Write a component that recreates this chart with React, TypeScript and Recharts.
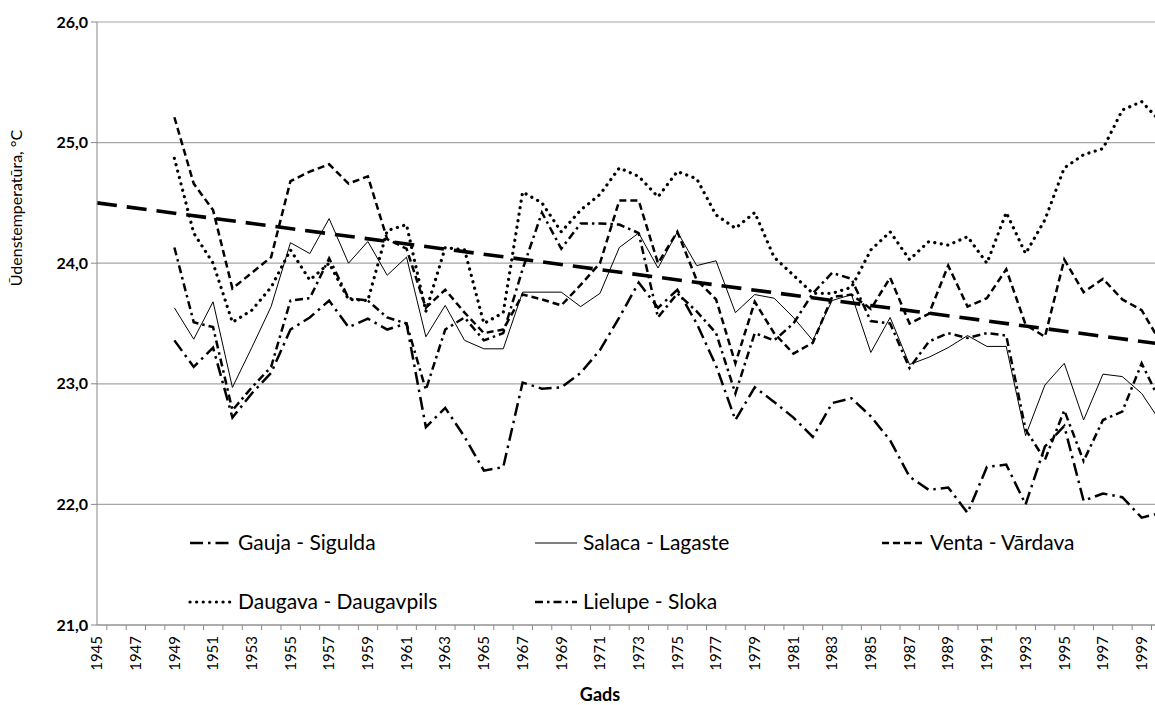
import React from 'react';
import { LineChart, Line, XAxis, YAxis, CartesianGrid } from 'recharts';

const years = [
  1945, 1946, 1947, 1948, 1949, 1950, 1951, 1952, 1953, 1954, 1955, 1956, 1957, 1958,
  1959, 1960, 1961, 1962, 1963, 1964, 1965, 1966, 1967, 1968, 1969, 1970, 1971, 1972,
  1973, 1974, 1975, 1976, 1977, 1978, 1979, 1980, 1981, 1982, 1983, 1984, 1985, 1986,
  1987, 1988, 1989, 1990, 1991, 1992, 1993, 1994, 1995, 1996, 1997, 1998, 1999, 2000,
];
const firstMeasured = 1949;

// values 1949..2000
const gauja = [
  23.36, 23.14, 23.3, 22.72, 22.92, 23.09, 23.45, 23.55, 23.69, 23.47, 23.54, 23.45, 23.5,
  22.64, 22.8, 22.56, 22.28, 22.31, 23.01, 22.96, 22.97, 23.09, 23.28, 23.55, 23.84, 23.63,
  23.78, 23.5, 23.15, 22.7, 22.97, 22.85, 22.72, 22.56, 22.84, 22.88, 22.73, 22.53, 22.23,
  22.12, 22.14, 21.93, 22.31, 22.33, 22.0, 22.48, 22.65, 22.03, 22.09, 22.06, 21.89, 21.93,
];
const salaca = [
  23.63, 23.37, 23.68, 22.97, 23.3, 23.64, 24.17, 24.08, 24.37, 24.0, 24.18, 23.9, 24.05,
  23.39, 23.65, 23.36, 23.29, 23.29, 23.76, 23.76, 23.76, 23.64, 23.75, 24.13, 24.25, 23.96,
  24.26, 23.98, 24.02, 23.59, 23.74, 23.71, 23.55, 23.36, 23.69, 23.74, 23.26, 23.55, 23.16,
  23.22, 23.3, 23.4, 23.31, 23.31, 22.57, 22.99, 23.17, 22.7, 23.08, 23.06, 22.92, 22.68,
];
const venta = [
  25.21, 24.66, 24.44, 23.79, 23.92, 24.05, 24.68, 24.76, 24.82, 24.66, 24.72, 24.2, 24.12,
  23.63, 23.78, 23.59, 23.42, 23.45, 23.74, 23.7, 23.65, 23.82, 24.0, 24.52, 24.52, 24.0,
  24.26, 23.86, 23.7, 23.17, 23.68, 23.42, 23.25, 23.34, 23.72, 23.74, 23.62, 23.88, 23.5,
  23.58, 23.98, 23.64, 23.71, 23.95, 23.49, 23.39, 24.03, 23.76, 23.87, 23.7, 23.61, 23.34,
];
const daugava = [
  24.87, 24.25, 24.0, 23.51, 23.61, 23.8, 24.11, 23.86, 24.0, 23.7, 23.69, 24.27, 24.32,
  23.6, 24.13, 24.11, 23.5, 23.59, 24.59, 24.5, 24.26, 24.44, 24.57, 24.79, 24.72, 24.55,
  24.76, 24.7, 24.4, 24.29, 24.42, 24.05, 23.9, 23.75, 23.75, 23.8, 24.11, 24.26, 24.03,
  24.18, 24.15, 24.22, 24.0, 24.42, 24.08, 24.36, 24.79, 24.9, 24.95, 25.27, 25.34, 25.17,
];
const lielupe = [
  24.13, 23.51, 23.47, 22.78, 22.97, 23.14, 23.69, 23.71, 24.04, 23.71, 23.69, 23.55, 23.5,
  22.95, 23.45, 23.55, 23.36, 23.42, 23.95, 24.42, 24.12, 24.33, 24.33, 24.32, 24.25, 23.55,
  23.75, 23.6, 23.42, 22.92, 23.42, 23.36, 23.5, 23.75, 23.92, 23.87, 23.52, 23.5, 23.13,
  23.35, 23.42, 23.38, 23.42, 23.4, 22.62, 22.37, 22.78, 22.36, 22.7, 22.77, 23.17, 22.84,
];
// linear trend, value at 1945 and at 2000
const trendEnds = [24.5, 23.33];
const yTicks = [21, 22, 23, 24, 25, 26];

const FONT = 'Lato, "Open Sans", sans-serif';

const fromYear = (vals: number[], year: number) =>
  year < firstMeasured ? null : vals[year - firstMeasured];

const data = years.map((year, i) => ({
  year,
  gauja: fromYear(gauja, year),
  salaca: fromYear(salaca, year),
  venta: fromYear(venta, year),
  daugava: fromYear(daugava, year),
  lielupe: fromYear(lielupe, year),
  trend: i === 0 ? trendEnds[0] : i === years.length - 1 ? trendEnds[1] : null,
}));

const series = [
  { key: 'gauja', name: 'Gauja - Sigulda', width: 2.5, dash: '13 5 2.5 5', cap: 'butt' },
  { key: 'salaca', name: 'Salaca - Lagaste', width: 1, dash: undefined, cap: 'butt' },
  { key: 'venta', name: 'Venta - Vārdava', width: 2.5, dash: '7 4', cap: 'butt' },
  { key: 'daugava', name: 'Daugava - Daugavpils', width: 3.2, dash: '0.1 6.5', cap: 'round' },
  { key: 'lielupe', name: 'Lielupe - Sloka', width: 2.5, dash: '8 4 2.5 4', cap: 'butt' },
];

const legendPos: Record<string, [number, number]> = {
  gauja: [190, 543],
  salaca: [535, 543],
  venta: [882, 543],
  daugava: [190, 602],
  lielupe: [535, 602],
};

const YearTick = (props: any) => {
  const { x, y, payload } = props;
  const half = 9.5;
  const ty = y + 11;
  return (
    <g>
      <line x1={x - half} x2={x - half} y1={y} y2={y + 5} stroke="#888" />
      {payload.value % 2 === 1 && (
        <text
          x={x}
          y={ty}
          transform={`rotate(-90 ${x} ${ty})`}
          textAnchor="end"
          dy="0.35em"
          fontSize={15}
          fontFamily={FONT}
          fill="#000"
        >
          {payload.value}
        </text>
      )}
    </g>
  );
};

export default function App() {
  return (
    <div style={{ position: 'absolute', left: 0, top: 0, width: 1155, height: 705, overflow: 'hidden', background: '#fff' }}>
      <LineChart width={1161} height={705} data={data} margin={{ top: 22, right: 0, bottom: 0, left: 0 }}>
        <CartesianGrid vertical={false} stroke="#a6a6a6" strokeWidth={1.2} />
        <XAxis
          dataKey="year"
          interval={0}
          tickLine={false}
          tickSize={0}
          tickMargin={0}
          height={80}
          axisLine={{ stroke: '#888' }}
          tick={<YearTick />}
        />
        <YAxis
          type="number"
          domain={[21, 26]}
          ticks={yTicks}
          width={97}
          tickSize={6}
          tickMargin={3}
          axisLine={{ stroke: '#888' }}
          tickLine={{ stroke: '#888' }}
          tickFormatter={(v: number) => v.toFixed(1).replace('.', ',')}
          tick={{ fill: '#000', fontSize: 16, fontWeight: 'bold', fontFamily: FONT }}
        />
        {series.map((s) => (
          <Line
            key={s.key}
            dataKey={s.key}
            name={s.name}
            type="linear"
            stroke="#000"
            strokeWidth={s.width}
            strokeDasharray={s.dash}
            strokeLinecap={s.cap as any}
            dot={false}
            activeDot={false}
            isAnimationActive={false}
          />
        ))}
        <Line
          dataKey="trend"
          type="linear"
          stroke="#000"
          strokeWidth={3.6}
          strokeDasharray="20 10"
          connectNulls
          dot={false}
          activeDot={false}
          isAnimationActive={false}
        />
      </LineChart>
      <svg width={1155} height={705} style={{ position: 'absolute', left: 0, top: 0, pointerEvents: 'none' }}>
        <text
          x={22}
          y={208}
          transform="rotate(-90 22 208)"
          textAnchor="middle"
          fontSize={16}
          fontFamily={FONT}
          fill="#000"
        >
          Ūdenstemperatūra, °C
        </text>
        <text x={600} y={701} textAnchor="middle" fontSize={18} fontWeight="bold" fontFamily={FONT} fill="#000">
          Gads
        </text>
        {series.map((s) => {
          const [lx, ly] = legendPos[s.key];
          return (
            <g key={s.key}>
              <line
                x1={lx}
                x2={lx + 42}
                y1={ly}
                y2={ly}
                stroke="#000"
                strokeWidth={s.width}
                strokeDasharray={s.dash}
                strokeLinecap={s.cap as any}
              />
              <text x={lx + 48} y={ly} dy="0.35em" fontSize={21} fontFamily={FONT} fill="#000">
                {s.name}
              </text>
            </g>
          );
        })}
      </svg>
    </div>
  );
}
